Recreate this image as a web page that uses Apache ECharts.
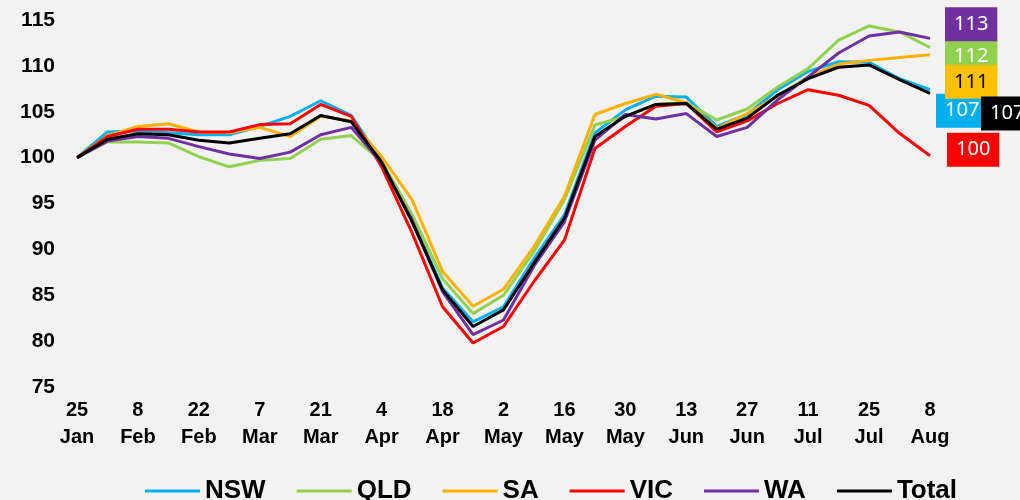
<!DOCTYPE html>
<html>
<head>
<meta charset="utf-8">
<script src="https://cdn.jsdelivr.net/npm/echarts@6/dist/echarts.min.js"></script>
<style>
  html, body { margin: 0; padding: 0; background: #F2F2F2; }
  #chart { width: 1020px; height: 500px; }
</style>
</head>
<body>
<div id="chart"></div>
<script>
// Weekly index (25 Jan = 100), 2020
const weeks = ['25\nJan','1\nFeb','8\nFeb','15\nFeb','22\nFeb','29\nFeb','7\nMar','14\nMar','21\nMar','28\nMar',
  '4\nApr','11\nApr','18\nApr','25\nApr','2\nMay','9\nMay','16\nMay','23\nMay','30\nMay','6\nJun',
  '13\nJun','20\nJun','27\nJun','4\nJul','11\nJul','18\nJul','25\nJul','1\nAug','8\nAug'];

const nsw = [100,102.8,102.9,102.7,102.5,102.5,103.4,104.5,106.2,104.6,99.6,93.2,85.8,82.1,83.75,89.0,93.75,102.7,105.2,106.7,106.6,103.4,104.7,107.4,109.4,110.45,110.4,108.6,107.4];
const qld = [100,101.7,101.7,101.6,100.1,99.0,99.7,99.9,102.0,102.4,99.6,93.8,86.8,83.0,85.0,89.75,95.4,103.55,104.5,105.8,106.0,104.1,105.3,107.7,109.7,112.8,114.35,113.7,112.0];
const sa  = [100,102.4,103.4,103.7,102.8,102.7,103.3,102.3,104.5,104.0,100.1,95.4,87.6,83.8,85.65,90.3,95.75,104.7,105.9,106.9,106.0,103.2,104.8,106.7,108.8,110.2,110.6,110.9,111.2];
const vic = [100,102.3,103.1,103.1,102.8,102.8,103.6,103.7,105.8,104.5,99.0,91.8,83.75,79.8,81.6,86.5,91.0,101.0,103.4,105.6,105.9,102.8,104.0,105.9,107.4,106.8,105.7,102.65,100.2];
const wa  = [100,101.8,102.3,102.1,101.2,100.4,99.9,100.6,102.5,103.3,99.4,93.2,85.4,80.7,82.3,88.2,93.0,101.9,104.7,104.2,104.8,102.3,103.3,106.3,108.8,111.4,113.25,113.7,113.0];
const total = [100,102.0,102.6,102.5,101.9,101.6,102.1,102.6,104.6,103.9,99.5,93.0,85.6,81.6,83.4,88.5,93.4,102.3,104.5,105.8,105.9,103.1,104.3,106.8,108.6,109.85,110.1,108.5,107.0];

const yTicks = { min: 75, max: 115, step: 5 };

// name, values, line colour, end tag colours and tag offset from the last point
const seriesDefs = [
  { name: 'NSW',   data: nsw,   color: '#00B0F0', tagBg: '#00B0F0', tagText: '#FFFFFF', offset: [1, 21] },
  { name: 'QLD',   data: qld,   color: '#92D050', tagBg: '#92D050', tagText: '#FFFFFF', offset: [10, 8.5] },
  { name: 'SA',    data: sa,    color: '#FFB000', tagBg: '#FFC000', tagText: '#000000', offset: [10, 27] },
  { name: 'VIC',   data: vic,   color: '#FF0000', tagBg: '#FF0000', tagText: '#FFFFFF', offset: [12, -6] },
  { name: 'WA',    data: wa,    color: '#7030A0', tagBg: '#7030A0', tagText: '#FFFFFF', offset: [10, -14] },
  { name: 'Total', data: total, color: '#000000', tagBg: '#000000', tagText: '#FFFFFF', offset: [46, 20] }
];

const chart = echarts.init(document.getElementById('chart'), null, { renderer: 'canvas' });

const series = seriesDefs.map(function (d) {
  const last = d.data.length - 1;
  return {
    name: d.name,
    type: 'line',
    symbol: 'circle',
    symbolSize: 0,
    showSymbol: true,
    color: d.color,
    lineStyle: { width: 3, color: d.color },
    label: { show: false },
    data: d.data.map(function (v, i) {
      if (i !== last) return v;
      return {
        value: v,
        label: {
          show: true,
          position: 'right',
          distance: 5,
          offset: d.offset,
          formatter: function (p) { return Math.round(p.value).toString(); },
          backgroundColor: d.tagBg,
          color: d.tagText,
          fontFamily: 'Noto Sans',
          fontSize: 20,
          lineHeight: 20,
          padding: [7, 9]
        }
      };
    })
  };
});

chart.setOption({
  backgroundColor: '#F2F2F2',
  animation: false,
  grid: { left: 77, right: 90, top: 20, bottom: 113 },
  legend: {
    left: 140,
    top: 473,
    icon: 'rect',
    itemWidth: 55,
    itemHeight: 3,
    itemGap: 31,
    textStyle: { fontFamily: 'Liberation Sans', fontWeight: 'bold', fontSize: 26, color: '#000000' },
    data: seriesDefs.map(function (d) { return d.name; })
  },
  xAxis: {
    type: 'category',
    boundaryGap: false,
    data: weeks,
    axisLine: { show: false },
    axisTick: { show: false },
    splitLine: { show: false },
    axisLabel: {
      interval: 1,
      margin: 10,
      color: '#000000',
      fontFamily: 'Liberation Sans',
      fontWeight: 'bold',
      fontSize: 20,
      lineHeight: 27
    }
  },
  yAxis: {
    type: 'value',
    min: yTicks.min,
    max: yTicks.max,
    interval: yTicks.step,
    axisLine: { show: false },
    axisTick: { show: false },
    splitLine: { show: false },
    axisLabel: {
      margin: 22,
      color: '#000000',
      fontFamily: 'Liberation Sans',
      fontWeight: 'bold',
      fontSize: 21
    }
  },
  series: series
});
</script>
</body>
</html>
